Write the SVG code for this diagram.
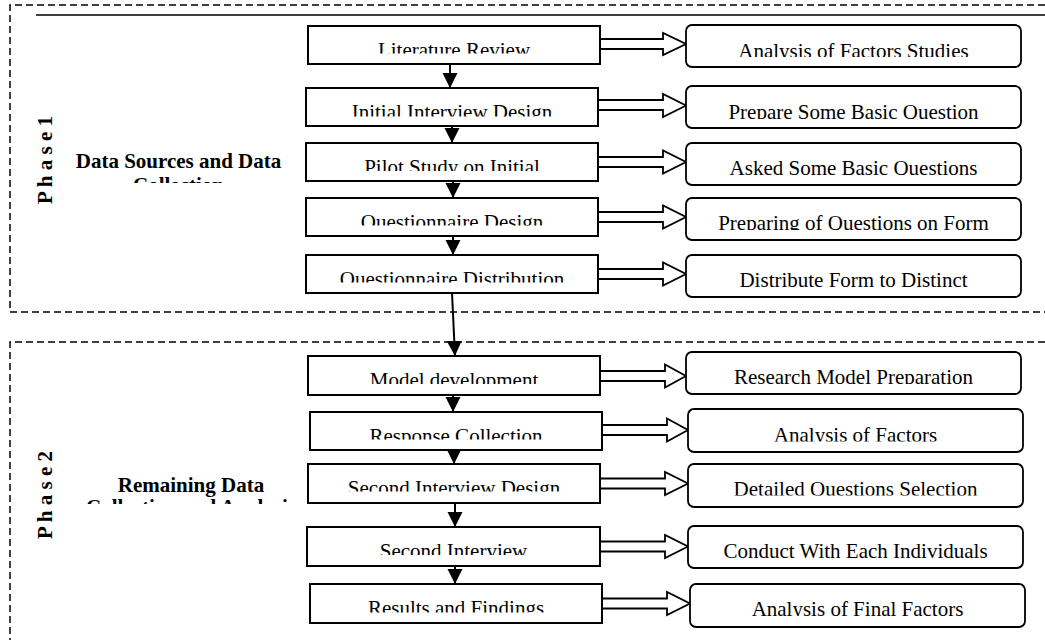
<svg xmlns="http://www.w3.org/2000/svg" width="1045" height="640" viewBox="0 0 1045 640" overflow="hidden">
<style>
.bg{fill:#fff}
.phase{fill:none;stroke:#000;stroke-width:1.5;stroke-dasharray:7 4}
.step{fill:#fff;stroke:#000;stroke-width:2}
.out{fill:#fff;stroke:#000;stroke-width:1.8}
.flow{fill:none;stroke:#000;stroke-width:2}
.block{fill:#fff;stroke:#000;stroke-width:1.8;stroke-linejoin:miter}
</style>
<defs>
<marker id="ah" markerUnits="userSpaceOnUse" markerWidth="16" markerHeight="16" refX="15" refY="7.5" orient="auto">
<path d="M0,0 L15,7.5 L0,15 z" fill="#000"/>
</marker>
<clipPath id="c1"><rect x="300" y="20" width="310" height="33.5"/></clipPath>
<clipPath id="c2"><rect x="300" y="88" width="310" height="28.5"/></clipPath>
<clipPath id="c3"><rect x="300" y="143" width="310" height="28"/></clipPath>
<clipPath id="c4"><rect x="300" y="198" width="310" height="27.5"/></clipPath>
<clipPath id="c5"><rect x="300" y="255" width="310" height="27.5"/></clipPath>
<clipPath id="c6"><rect x="300" y="356" width="310" height="28"/></clipPath>
<clipPath id="c7"><rect x="300" y="412" width="310" height="27.5"/></clipPath>
<clipPath id="c8"><rect x="300" y="464" width="310" height="27.5"/></clipPath>
<clipPath id="c9"><rect x="300" y="527" width="310" height="28"/></clipPath>
<clipPath id="c10"><rect x="300" y="584" width="310" height="28.5"/></clipPath>
<clipPath id="r1"><rect x="680" y="25" width="350" height="32"/></clipPath>
<clipPath id="r2"><rect x="680" y="86" width="350" height="33"/></clipPath>
<clipPath id="r3"><rect x="680" y="143" width="350" height="32"/></clipPath>
<clipPath id="r4"><rect x="680" y="198" width="350" height="32"/></clipPath>
<clipPath id="r5"><rect x="680" y="255" width="350" height="32"/></clipPath>
<clipPath id="r6"><rect x="680" y="352" width="350" height="32"/></clipPath>
<clipPath id="r7"><rect x="680" y="409" width="350" height="32.5"/></clipPath>
<clipPath id="r8"><rect x="680" y="464" width="350" height="31.5"/></clipPath>
<clipPath id="r9"><rect x="680" y="526" width="350" height="32.5"/></clipPath>
<clipPath id="r10"><rect x="680" y="584" width="350" height="32"/></clipPath>
<clipPath id="l1"><rect x="40" y="140" width="260" height="43"/></clipPath>
<clipPath id="l2"><rect x="40" y="460" width="270" height="44"/></clipPath>
</defs>
<rect class="bg" x="0" y="0" width="1045" height="640"/>

<g font-family="Liberation Serif, Times New Roman, DejaVu Serif, serif" font-size="21" fill="#000" text-anchor="middle">

<g id="phase1">
<path class="phase" d="M1045,5 H10 V312 H1045"/>
<line x1="36" y1="15" x2="1045" y2="15" stroke="#000" stroke-width="1.5"/>
<text font-weight="bold" transform="translate(52,160) rotate(-90)">P h a s e 1</text>
<g clip-path="url(#l1)">
<text font-weight="bold" x="178.5" y="168">Data Sources and Data</text>
<text font-weight="bold" x="178.5" y="192">Collection</text>
</g>
</g>

<g id="phase2">
<path class="phase" d="M1045,342 H10 V640"/>
<text font-weight="bold" transform="translate(52,495) rotate(-90)">P h a s e 2</text>
<g clip-path="url(#l2)">
<text font-weight="bold" x="191" y="492">Remaining Data</text>
<text font-weight="bold" x="191" y="514">Collection and Analysis</text>
</g>
</g>

<g id="connectors">
<line class="flow" x1="450" y1="64" x2="450" y2="88" marker-end="url(#ah)"/>
<line class="flow" x1="452" y1="126" x2="452" y2="143" marker-end="url(#ah)"/>
<line class="flow" x1="453" y1="181" x2="453" y2="198" marker-end="url(#ah)"/>
<line class="flow" x1="453" y1="236" x2="453" y2="255" marker-end="url(#ah)"/>
<line class="flow" x1="452" y1="293" x2="455" y2="356" marker-end="url(#ah)"/>
<line class="flow" x1="453" y1="395" x2="453" y2="412" marker-end="url(#ah)"/>
<line class="flow" x1="454" y1="450" x2="454" y2="464" marker-end="url(#ah)"/>
<line class="flow" x1="455" y1="503" x2="455" y2="527" marker-end="url(#ah)"/>
<line class="flow" x1="455" y1="566" x2="455" y2="584" marker-end="url(#ah)"/>

<polygon class="block" points="600,39 663,39 663,33 686,44 663,55 663,49 600,49"/>
<polygon class="block" points="598,100 663,100 663,94 686,105.5 663,117 663,110 598,110"/>
<polygon class="block" points="598,157 663,157 663,150.5 686,162 663,173.5 663,167 598,167"/>
<polygon class="block" points="598,212 663,212 663,205.5 686,217 663,228.5 663,222 598,222"/>
<polygon class="block" points="598,269 663,269 663,262.5 686,274 663,285.5 663,279 598,279"/>

<polygon class="block" points="600,371 665,371 665,364.5 686,376 665,387.5 665,381 600,381"/>
<polygon class="block" points="602,425 667,425 667,418.5 688,430 667,441.5 667,435 602,435"/>
<polygon class="block" points="600,478.5 665,478.5 665,472 688,483.5 665,495 665,488.5 600,488.5"/>
<polygon class="block" points="600,541.5 665,541.5 665,535 688,546.5 665,558 665,551.5 600,551.5"/>
<polygon class="block" points="602,598.5 667,598.5 667,592 690,603.5 667,615 667,608.5 602,608.5"/>
</g>

<g id="lit-review"><rect class="step" x="308" y="26" width="292" height="38"/><text x="454" y="56.5" clip-path="url(#c1)">Literature Review</text></g>
<g id="initial-interview"><rect class="step" x="306" y="88" width="292" height="38"/><text x="452" y="118.5" clip-path="url(#c2)">Initial Interview Design</text></g>
<g id="pilot-study"><rect class="step" x="306" y="143" width="292" height="38"/><text x="452" y="173.5" clip-path="url(#c3)">Pilot Study on Initial</text></g>
<g id="questionnaire-design"><rect class="step" x="306" y="198" width="292" height="38"/><text x="452" y="228.5" clip-path="url(#c4)">Questionnaire Design</text></g>
<g id="questionnaire-distribution"><rect class="step" x="306" y="255" width="292" height="38"/><text x="452" y="285.5" clip-path="url(#c5)">Questionnaire Distribution</text></g>

<g id="model-development"><rect class="step" x="308" y="356" width="292" height="39"/><text x="454" y="387" clip-path="url(#c6)">Model development</text></g>
<g id="response-collection"><rect class="step" x="310" y="412" width="292" height="38"/><text x="456" y="442.5" clip-path="url(#c7)">Response Collection</text></g>
<g id="second-interview-design"><rect class="step" x="308" y="464" width="292" height="39"/><text x="454" y="494.5" clip-path="url(#c8)">Second Interview Design</text></g>
<g id="second-interview"><rect class="step" x="307" y="527" width="293" height="39"/><text x="453.5" y="558" clip-path="url(#c9)">Second Interview</text></g>
<g id="results-findings"><rect class="step" x="310" y="584" width="292" height="39"/><text x="456" y="615" clip-path="url(#c10)">Results and Findings</text></g>

<g id="analysis-factors-studies"><rect class="out" x="686" y="25" width="335" height="42" rx="6"/><text x="853.5" y="57.5" clip-path="url(#r1)">Analysis of Factors Studies</text></g>
<g id="prepare-basic-question"><rect class="out" x="686" y="86" width="335" height="42" rx="6"/><text x="853.5" y="118.5" clip-path="url(#r2)">Prepare Some Basic Question</text></g>
<g id="asked-basic-questions"><rect class="out" x="686" y="143" width="335" height="42" rx="6"/><text x="853.5" y="175" clip-path="url(#r3)">Asked Some Basic Questions</text></g>
<g id="preparing-questions"><rect class="out" x="686" y="198" width="335" height="42" rx="6"/><text x="853.5" y="230" clip-path="url(#r4)">Preparing of Questions on Form</text></g>
<g id="distribute-form"><rect class="out" x="686" y="255" width="335" height="42" rx="6"/><text x="853.5" y="287" clip-path="url(#r5)">Distribute Form to Distinct</text></g>

<g id="research-model"><rect class="out" x="686" y="352" width="335" height="42" rx="6"/><text x="853.5" y="384" clip-path="url(#r6)">Research Model Preparation</text></g>
<g id="analysis-factors"><rect class="out" x="688" y="409" width="335" height="43" rx="6"/><text x="855.5" y="441.5" clip-path="url(#r7)">Analysis of Factors</text></g>
<g id="detailed-questions"><rect class="out" x="688" y="464" width="335" height="43" rx="6"/><text x="855.5" y="496" clip-path="url(#r8)">Detailed Questions Selection</text></g>
<g id="conduct-individuals"><rect class="out" x="688" y="526" width="335" height="42" rx="6"/><text x="855.5" y="558" clip-path="url(#r9)">Conduct With Each Individuals</text></g>
<g id="analysis-final"><rect class="out" x="690" y="584" width="335" height="43" rx="6"/><text x="857.5" y="616" clip-path="url(#r10)">Analysis of Final Factors</text></g>
</g>
</svg>
